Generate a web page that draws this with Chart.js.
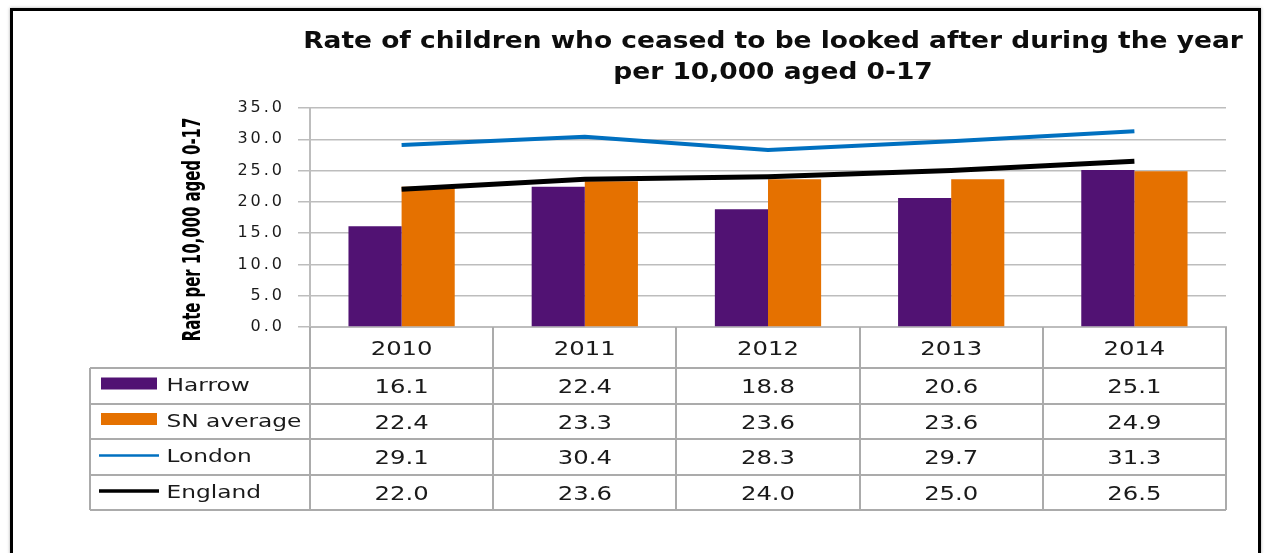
<!DOCTYPE html>
<html>
<head>
<meta charset="utf-8">
<script src="https://cdn.jsdelivr.net/npm/chart.js@4"></script>
<style>
  html, body { margin: 0; padding: 0; background: #fff; overflow: hidden; }
  #wrap { position: relative; width: 1266px; height: 553px; }
  #c { position: absolute; left: 0; top: 0; }
  /* outer frame of the chart object */
  #frame {
    position: absolute; left: 10px; top: 8px; width: 1245px; height: 600px;
    border: 3px solid #000; border-bottom: none; pointer-events: none;
    box-shadow: 0 0 3px #aaa;
  }
</style>
</head>
<body>
<div id="wrap">
  <canvas id="c" width="1266" height="553"></canvas>
  <div id="frame"></div>
</div>
<script>
// data
const years = ["2010", "2011", "2012", "2013", "2014"];
const harrow = [16.1, 22.4, 18.8, 20.6, 25.1];
const snAverage = [22.4, 23.3, 23.6, 23.6, 24.9];
const london = [29.1, 30.4, 28.3, 29.7, 31.3];
const england = [22.0, 23.6, 24.0, 25.0, 26.5];
const titleLines = [
  "Rate of children who ceased to be looked after during the year",
  "per 10,000 aged 0-17",
];
const yTitle = "Rate per 10,000 aged 0-17";

const colors = {
  harrow: "#511273",
  sn: "#E57100",
  london: "#0070C0",
  england: "#000000",
  grid: "#BDBDBD",
  table: "#ABABAB",
  text: "#1a1a1a",
};

// rows of the data table under the plot
const rows = [
  { label: "Harrow", data: harrow, kind: "bar", color: colors.harrow },
  { label: "SN average", data: snAverage, kind: "bar", color: colors.sn },
  { label: "London", data: london, kind: "line", color: colors.london, w: 2.5 },
  { label: "England", data: england, kind: "line", color: colors.england, w: 3.5 },
];

const FONT = '"DejaVu Sans", sans-serif';

// text stretched sideways, like the source picture
function wideText(ctx, text, x, y, font, sx, align) {
  ctx.save();
  ctx.font = font;
  ctx.textAlign = align;
  ctx.textBaseline = "alphabetic";
  ctx.translate(x, y);
  ctx.scale(sx, 1);
  ctx.fillText(text, 0, 0);
  ctx.restore();
}

// draws titles and the data table using the x scale positions
const tablePlugin = {
  id: "tablePlugin",
  beforeDraw(chart) {
    // spacing for the y tick labels
    chart.ctx.letterSpacing = "3px";
  },
  afterDraw(chart) {
    const ctx = chart.ctx;
    const x = chart.scales.x;
    const area = chart.chartArea;
    const n = years.length;
    const colW = (area.right - area.left) / n;
    const tableLeft = 90;
    const headerH = 41;
    const rowH = 35.5;
    const firstRow = area.bottom + headerH;
    const bottom = firstRow + rowH * rows.length;

    ctx.save();
    ctx.letterSpacing = "0px";

    // table lines
    ctx.strokeStyle = colors.table;
    ctx.lineWidth = 2;
    ctx.beginPath();
    for (let i = 0; i <= n; i++) {
      const px = Math.round(area.left + i * colW);
      ctx.moveTo(px, area.bottom);
      ctx.lineTo(px, bottom);
    }
    ctx.moveTo(tableLeft, firstRow);
    ctx.lineTo(tableLeft, bottom);
    for (let r = 0; r <= rows.length; r++) {
      const py = Math.round(firstRow + r * rowH);
      ctx.moveTo(tableLeft, py);
      ctx.lineTo(area.right, py);
    }
    ctx.stroke();

    // header with years
    ctx.fillStyle = colors.text;
    years.forEach((yr, i) => {
      wideText(ctx, yr, x.getPixelForValue(i), area.bottom + 28, "19px " + FONT, 1.28, "center");
    });

    // rows
    rows.forEach((row, r) => {
      const top = firstRow + r * rowH;
      // legend key
      if (row.kind === "bar") {
        ctx.fillStyle = row.color;
        ctx.fillRect(101, top + 9.5, 56, 12);
      } else {
        ctx.strokeStyle = row.color;
        ctx.lineWidth = row.w;
        ctx.beginPath();
        ctx.moveTo(99, top + 16.5);
        ctx.lineTo(159, top + 16.5);
        ctx.stroke();
      }
      ctx.fillStyle = colors.text;
      wideText(ctx, row.label, 166.5, top + 23, "17px " + FONT, 1.37, "left");
      row.data.forEach((v, i) => {
        wideText(ctx, v.toFixed(1), x.getPixelForValue(i), top + 25, "19px " + FONT, 1.28, "center");
      });
    });

    // chart title
    ctx.fillStyle = "#0d0d0d";
    wideText(ctx, titleLines[0], 773, 48, "bold 23px " + FONT, 1.15, "center");
    wideText(ctx, titleLines[1], 773, 79, "bold 23px " + FONT, 1.15, "center");

    // y axis title, rotated and narrowed
    ctx.save();
    ctx.translate(199.5, 229.5);
    ctx.rotate(-Math.PI / 2);
    ctx.scale(0.62, 1);
    ctx.font = "bold 24px " + FONT;
    ctx.textAlign = "center";
    ctx.fillStyle = "#000";
    ctx.fillText(yTitle, 0, 0);
    ctx.restore();

    ctx.restore();
  },
};

const ctx = document.getElementById("c").getContext("2d");
new Chart(ctx, {
  type: "bar",
  data: {
    labels: years,
    datasets: [
      {
        type: "line",
        label: "London",
        data: london,
        borderColor: colors.london,
        borderWidth: 4,
        pointRadius: 0,
        tension: 0,
        fill: false,
        order: 0,
      },
      {
        type: "line",
        label: "England",
        data: england,
        borderColor: colors.england,
        borderWidth: 5,
        pointRadius: 0,
        tension: 0,
        fill: false,
        order: 0,
      },
      {
        label: "Harrow",
        data: harrow,
        backgroundColor: colors.harrow,
        categoryPercentage: 0.58,
        barPercentage: 1.0,
        order: 1,
      },
      {
        label: "SN average",
        data: snAverage,
        backgroundColor: colors.sn,
        categoryPercentage: 0.58,
        barPercentage: 1.0,
        order: 1,
      },
    ],
  },
  options: {
    responsive: false,
    animation: false,
    layout: { padding: { left: 200, right: 40, top: 108, bottom: 226 } },
    plugins: {
      legend: { display: false },
      title: { display: false },
      tooltip: { enabled: false },
    },
    scales: {
      x: {
        ticks: { display: false },
        grid: { display: false },
        border: { display: true, color: colors.grid, width: 2 },
        afterFit: (s) => { s.height = 0; },
      },
      y: {
        min: 0,
        max: 35,
        ticks: {
          stepSize: 5,
          padding: 13,
          color: colors.text,
          font: { family: FONT, size: 16 },
          callback: (v) => v.toFixed(1),
        },
        grid: { color: colors.grid, lineWidth: 1.5, tickLength: 12 },
        border: { display: true, color: colors.grid, width: 2 },
        afterFit: (s) => { s.width = 110; },
      },
    },
  },
  plugins: [tablePlugin],
});
</script>
</body>
</html>
